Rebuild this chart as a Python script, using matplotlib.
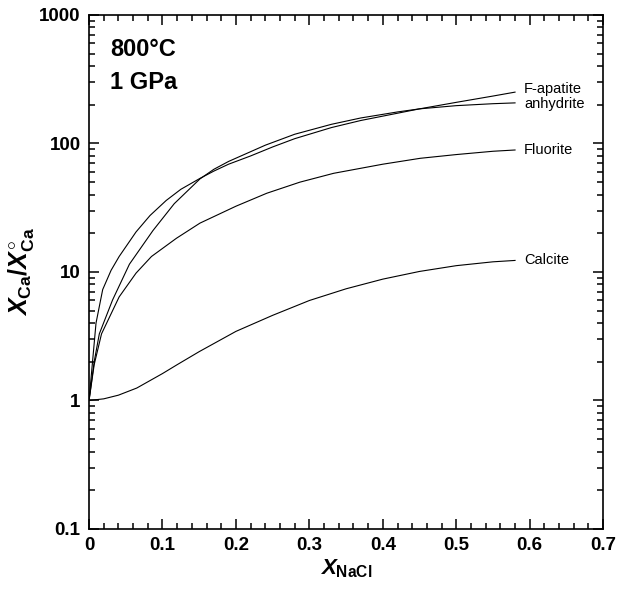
import matplotlib
matplotlib.use("Agg")
import matplotlib.pyplot as plt
from matplotlib.ticker import LogLocator, FuncFormatter, MultipleLocator

plt.rcParams['font.family'] = ['Liberation Sans', 'DejaVu Sans']
plt.rcParams['mathtext.fontset'] = 'custom'
plt.rcParams['mathtext.rm'] = 'Liberation Sans:bold'
plt.rcParams['mathtext.it'] = 'Liberation Sans:italic:bold'
plt.rcParams['mathtext.bf'] = 'Liberation Sans:bold'

# Valeurs (X_NaCl, X_Ca / X°_Ca)
x_fapatite = [0, 0.0095, 0.0186, 0.03, 0.041, 0.064, 0.083, 0.105, 0.125, 0.151,
              0.17, 0.19, 0.22, 0.25, 0.28, 0.33, 0.37, 0.42, 0.45, 0.5, 0.55, 0.58]
y_fapatite = [1, 4.0, 7.3, 10.3, 13.2, 20.5, 27.5, 36, 44, 53.5,
              61, 69, 80, 94, 109, 133, 151, 172, 186, 209, 234, 251]

x_anhydrite = [0, 0.007, 0.014, 0.032, 0.055, 0.087, 0.116, 0.151, 0.17, 0.19,
               0.24, 0.28, 0.33, 0.37, 0.42, 0.45, 0.5, 0.55, 0.58]
y_anhydrite = [1, 2.0, 3.3, 6.05, 11.5, 21, 34, 53, 63, 72.5,
               97, 118, 141, 158, 176, 186, 197, 204, 207]

x_fluorite = [0, 0.007, 0.017, 0.041, 0.064, 0.085, 0.119, 0.151, 0.2, 0.242,
              0.287, 0.333, 0.4, 0.451, 0.5, 0.55, 0.58]
y_fluorite = [1, 1.9, 3.3, 6.4, 9.8, 13.2, 18.3, 24, 32.5, 41,
              50, 58.6, 69, 76.7, 82, 87, 89]

x_calcite = [0, 0.02, 0.04, 0.065, 0.1, 0.12, 0.15, 0.2, 0.25, 0.3,
             0.35, 0.4, 0.45, 0.5, 0.55, 0.58]
y_calcite = [1.0, 1.03, 1.1, 1.25, 1.62, 1.9, 2.4, 3.45, 4.6, 6.0,
             7.4, 8.8, 10.1, 11.2, 12.0, 12.3]

# nom, x, y, décalage vertical de l'étiquette (points)
series = [
    ('F-apatite', x_fapatite, y_fapatite, 2.5),
    ('anhydrite', x_anhydrite, y_anhydrite, -0.5),
    ('Fluorite', x_fluorite, y_fluorite, 0),
    ('Calcite', x_calcite, y_calcite, 0),
]

fig = plt.figure(figsize=(6.27, 5.9), dpi=100)
ax = fig.add_axes([0.142, 0.1034, 0.820, 0.8712])

for name, xs, ys, dy in series:
    ax.plot(xs, ys, color='black', linewidth=0.8)
    ax.annotate(name, (xs[-1], ys[-1]), xytext=(6.5, dy), textcoords='offset points',
                fontsize=10.5, va='center', ha='left')

ax.set_yscale('log')
ax.set_xlim(0, 0.7)
ax.set_ylim(0.1, 1000)

ax.xaxis.set_major_locator(MultipleLocator(0.1))
ax.xaxis.set_minor_locator(MultipleLocator(0.02))
ax.xaxis.set_major_formatter(FuncFormatter(lambda v, p: '0' if v == 0 else f'{v:.1f}'))
ax.yaxis.set_major_locator(LogLocator(base=10, numticks=10))
ax.yaxis.set_minor_locator(LogLocator(base=10, subs=range(2, 10), numticks=20))
ax.yaxis.set_major_formatter(FuncFormatter(lambda v, p: f'{v:g}'))

ax.tick_params(which='both', direction='in', top=True, right=True, width=1.1)
ax.tick_params(which='major', length=7, labelsize=13.5, pad=6)
ax.tick_params(which='minor', length=4)
for lab in ax.get_xticklabels() + ax.get_yticklabels():
    lab.set_fontweight('bold')
for sp in ax.spines.values():
    sp.set_linewidth(1.2)

ax.text(0.041, 0.932, '800°C', transform=ax.transAxes, fontsize=17,
        fontweight='bold', va='center', ha='left')
ax.text(0.041, 0.868, '1 GPa', transform=ax.transAxes, fontsize=17,
        fontweight='bold', va='center', ha='left')

ax.set_xlabel(r'$X_{\mathrm{NaCl}}$', fontsize=16, labelpad=2)
ax.set_ylabel(r'$X_{\mathrm{Ca}}/X^{\circ}_{\mathrm{Ca}}$', fontsize=18, labelpad=2)

fig.savefig('out.png', dpi=100)
plt.close(fig)
